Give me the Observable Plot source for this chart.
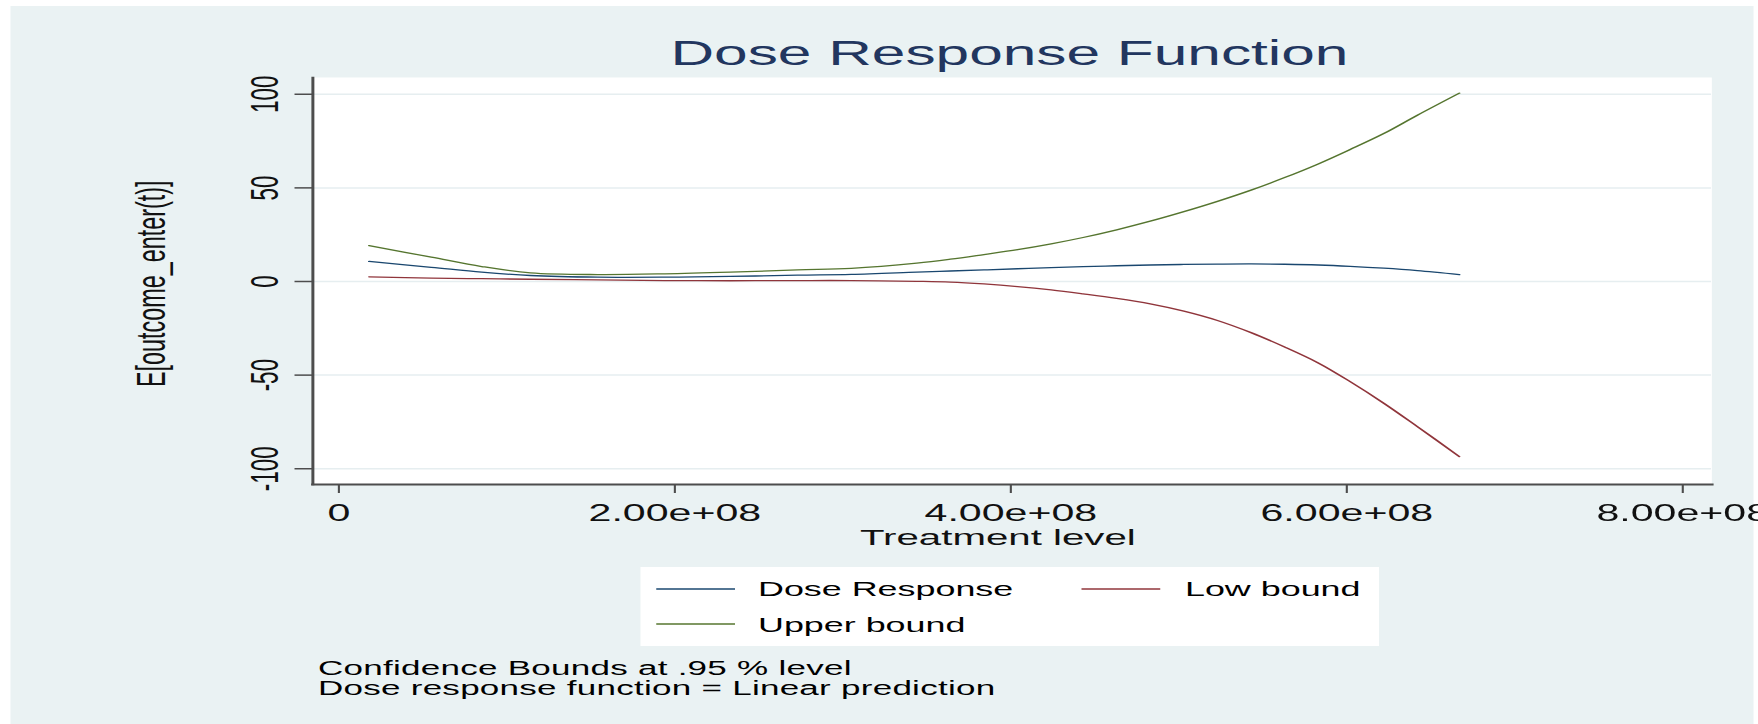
<!DOCTYPE html>
<html>
<head>
<meta charset="utf-8">
<script src="https://cdn.jsdelivr.net/npm/d3@7"></script>
<script src="https://cdn.jsdelivr.net/npm/@observablehq/plot@0.6"></script>
<style>
  html, body { margin: 0; padding: 0; background: #ffffff; }
  #wrap { position: absolute; left: 0; top: 0; height: 724px; transform: scaleX(1.75); transform-origin: 0 0;
          font-family: "Liberation Sans", Arial, sans-serif; color: #000; }
  .abs { position: absolute; white-space: nowrap; line-height: 1; }
</style>
</head>
<body>
<div id="wrap">
  <div id="bg" class="abs"></div>
  <div id="title" class="abs">Dose Response Function</div>
  <div id="plot" class="abs"></div>
  <div id="legend" class="abs"></div>
  <div id="caption1" class="abs">Confidence Bounds at .95 % level</div>
  <div id="caption2" class="abs">Dose response function = Linear prediction</div>
</div>
<script>
// ---- data ----
const xValues = [1.8e7, 5.5e7, 8.5e7, 1.14e8, 1.54e8, 1.94e8, 2.33e8, 2.73e8, 3.05e8, 3.44e8, 3.64e8, 3.84e8, 4.04e8,
  4.24e8, 4.43e8, 4.63e8, 4.83e8, 5.03e8, 5.23e8, 5.43e8, 5.63e8, 5.83e8, 6.02e8, 6.22e8, 6.42e8, 6.67e8];
const doseResponse = [10.7, 7.6, 5.0, 3.2, 2.3, 2.3, 2.7, 3.4, 3.8, 5.0, 5.6, 6.2, 6.8,
  7.4, 7.9, 8.4, 8.8, 9.1, 9.3, 9.4, 9.2, 8.8, 8.1, 7.1, 5.8, 3.7];
const lowBound = [2.5, 1.8, 1.5, 1.2, 0.9, 0.5, 0.4, 0.5, 0.5, 0.1, -0.3, -1.3, -2.7,
  -4.5, -6.6, -9.0, -11.9, -15.8, -20.8, -27.3, -35.0, -43.5, -53.5, -65.0, -77.5, -93.5];
const upperBound = [19.2, 13.0, 8.0, 4.6, 3.7, 4.1, 5.0, 6.2, 7.0, 9.8, 11.9, 14.4, 17.0,
  20.1, 23.5, 27.6, 32.2, 37.3, 42.8, 48.8, 55.5, 62.8, 70.5, 79.0, 88.8, 100.6];
const seriesNames = ["Dose Response", "Low bound", "Upper bound"];
const seriesColors = ["#1a476f", "#90353b", "#55752f"];
const yTicks = [-100, -50, 0, 50, 100];
const yTickLabels = ["-100", "-50", "0", "50", "100"];
const xTicks = [0, 2e8, 4e8, 6e8, 8e8];
const xTickLabels = ["0", "2.00e+08", "4.00e+08", "6.00e+08", "8.00e+08"];
const titleText = "Dose Response Function";
const xTitle = "Treatment level";
const yTitle = "E[outcome_enter(t)]";

// ---- layout (design units; the whole figure is stretched horizontally by S) ----
const S = 1.75;
const W = 1758 / S;
const FONT = "'Liberation Sans', Arial, sans-serif";
const wrap = document.getElementById("wrap");
wrap.style.width = W + "px";

function place(id, css) { Object.assign(document.getElementById(id).style, css); }
place("bg", {left: (10 / S) + "px", top: "6px", width: ((1754 - 10) / S) + "px", height: "718px", background: "#eaf2f3"});
place("title", {left: (1009.5 / S - 300) + "px", width: "600px", textAlign: "center", top: (65 - 0.8465 * 34.5) + "px",
  fontSize: "34.5px", color: "#22365f"});
place("caption1", {left: (318 / S) + "px", top: (675 - 0.8465 * 20) + "px", fontSize: "20px", letterSpacing: "0.15px"});
place("caption2", {left: (318 / S) + "px", top: (695 - 0.8465 * 20) + "px", fontSize: "20px", letterSpacing: "0.15px"});

// ---- chart ----
const rows = [];
[doseResponse, lowBound, upperBound].forEach((vals, i) =>
  vals.forEach((v, j) => rows.push({series: seriesNames[i], x: xValues[j], y: v})));

const plotTop = 70;
const frameLeft = 312 / S, frameRight = 1711 / S;
const chart = Plot.plot({
  width: W,
  height: 490,
  marginTop: 77 - plotTop,
  marginBottom: 70 + 490 - 484,
  marginLeft: frameLeft,
  marginRight: W - frameRight,
  style: {background: "transparent", fontFamily: FONT, overflow: "visible", maxWidth: "none"},
  x: {domain: [-1.548e7, 8.173e8], label: null},
  y: {domain: [-108.41, 108.95], label: null},
  color: {domain: seriesNames, range: seriesColors},
  marks: [
    Plot.frame({fill: "white", stroke: "none"}),
    Plot.ruleY(yTicks, {y: d => d, stroke: "#e6eef0", strokeWidth: 1.5}),
    Plot.line(rows, {x: "x", y: "y", z: "series", stroke: "series", strokeWidth: 1.3, curve: "catmull-rom"}),
    Plot.frame({anchor: "left", stroke: "#4d4d4d", strokeWidth: 1.7}),
    Plot.frame({anchor: "bottom", stroke: "#4d4d4d", strokeWidth: 2}),
    Plot.axisY(yTicks, {tickSize: 10, tickFormat: () => "", stroke: "#4d4d4d", strokeWidth: 1.5, label: null}),
    Plot.axisX(xTicks, {tickSize: 9, tickFormat: () => "", stroke: "#4d4d4d", strokeWidth: 1.2, label: null}),
    Plot.text(yTicks, {y: d => d, text: (d, i) => yTickLabels[i], frameAnchor: "left", dx: 264.1 / S - frameLeft,
      rotate: -90, textAnchor: "middle", lineAnchor: "middle", fontSize: 22.5, fill: "#111"}),
    Plot.text(xTicks, {x: d => d, text: (d, i) => xTickLabels[i], frameAnchor: "bottom", dy: 20,
      lineAnchor: "top", textAnchor: "middle", fontSize: 23.5, fill: "#111"}),
    Plot.text([xTitle], {text: d => d, frameAnchor: "bottom", dy: 44, dx: 997 / S - (frameLeft + frameRight) / 2,
      lineAnchor: "top", textAnchor: "middle", fontSize: 23, fill: "#111"}),
    Plot.text([yTitle], {text: d => d, frameAnchor: "left", dx: 150.9 / S - frameLeft, dy: 2.8,
      rotate: -90, textAnchor: "middle", lineAnchor: "middle", fontSize: 23.4, fill: "#111"})
  ]
});
const plotDiv = document.getElementById("plot");
plotDiv.style.left = "0px";
plotDiv.style.top = plotTop + "px";
plotDiv.style.width = W + "px";
plotDiv.appendChild(chart);

// ---- legend (below the chart) ----
const legend = document.getElementById("legend");
Object.assign(legend.style, {left: (641 / S) + "px", top: "567px", width: ((1379 - 641) / S) + "px", height: "79px", background: "#ffffff"});
const legendItems = [
  {name: seriesNames[0], color: seriesColors[0], lineX: 656, textX: 758, lineY: 589, base: 596},
  {name: seriesNames[1], color: seriesColors[1], lineX: 1082, textX: 1185, lineY: 589, base: 596},
  {name: seriesNames[2], color: seriesColors[2], lineX: 656, textX: 758, lineY: 624, base: 632}
];
for (const it of legendItems) {
  const ln = document.createElement("div");
  ln.className = "abs";
  Object.assign(ln.style, {left: ((it.lineX - 641) / S) + "px", top: (it.lineY - 567 - 0.65) + "px", width: (79 / S) + "px",
    height: "1.3px", background: it.color, opacity: "0.75"});
  legend.appendChild(ln);
  const tx = document.createElement("div");
  tx.className = "abs";
  tx.textContent = it.name;
  Object.assign(tx.style, {left: ((it.textX - 641) / S) + "px", top: (it.base - 567 - 0.8465 * 20.5) + "px", fontSize: "20.5px"});
  legend.appendChild(tx);
}
</script>
</body>
</html>
